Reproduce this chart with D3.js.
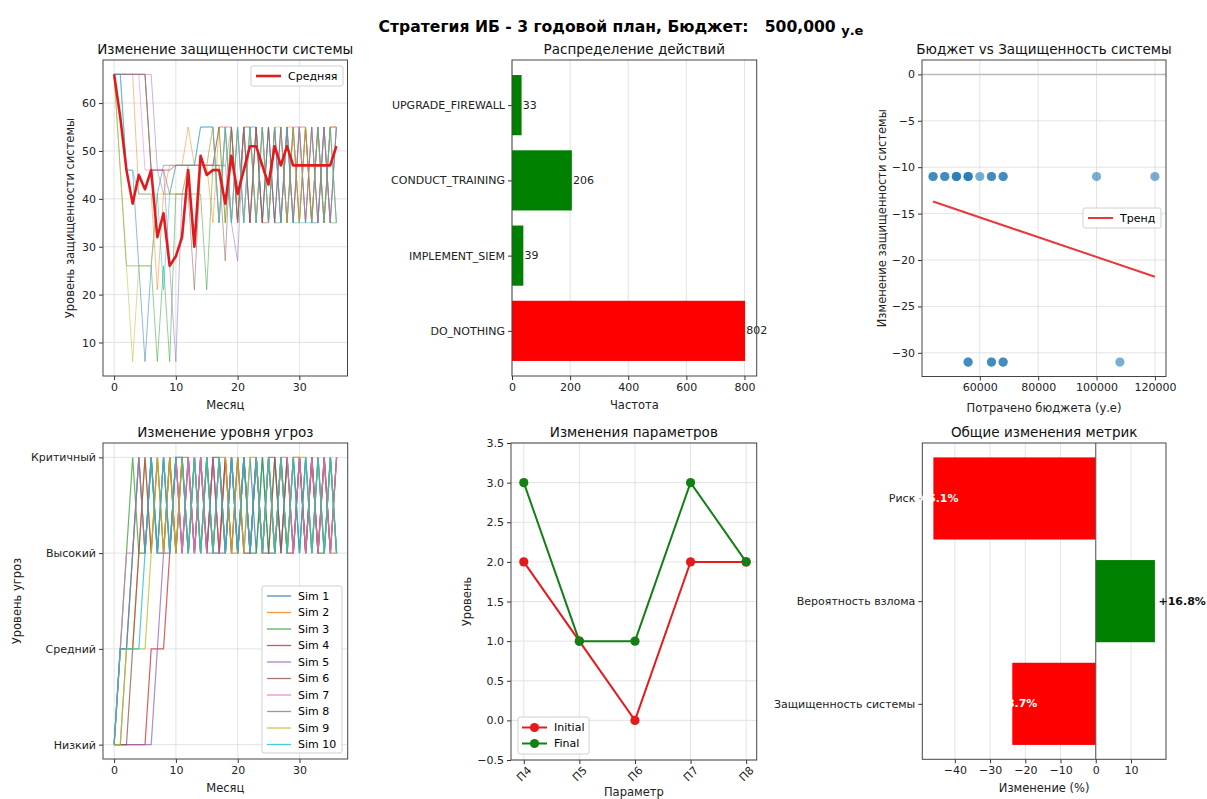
<!DOCTYPE html>
<html>
<head>
<meta charset="utf-8">
<script src="https://cdn.jsdelivr.net/npm/d3@7"></script>
<style>
  body { margin: 0; background: #fff; }
  text { font-family: "DejaVu Sans", sans-serif; }
</style>
</head>
<body>
<script>
// ---- data ----
const months = d3.range(0, 37);
const simColors = ["#1f77b4","#ff7f0e","#2ca02c","#d62728","#9467bd","#8c564b","#e377c2","#7f7f7f","#bcbd22","#17becf"];

// security level per simulation (months 0..36)
const secSims = [
  [66,66,46,46,26,6,26,41,47,47,47,47,47,47,55,55,55,35,55,35,55,35,55,55,35,55,35,55,35,55,35,55,35,35,55,35,55],
  [66,66,66,66,41,41,41,21,41,47,47,47,55,47,47,47,35,55,35,55,35,55,55,35,55,35,55,35,55,55,35,55,35,55,35,55,55],
  [66,46,26,26,26,26,26,6,26,6,41,41,41,41,41,21,47,55,35,55,35,55,35,55,35,55,35,35,55,35,55,35,55,35,55,35,35],
  [66,66,66,66,66,66,46,46,46,46,47,47,47,47,47,47,47,55,55,55,35,55,35,55,35,35,55,35,55,35,55,55,35,55,35,55,55],
  [66,66,66,66,66,66,66,46,46,26,6,41,47,47,47,47,47,47,47,35,27,55,35,55,35,55,35,55,35,55,55,35,55,35,55,35,55],
  [66,66,66,66,66,66,46,46,46,41,41,41,41,21,47,47,47,47,27,55,35,55,35,55,35,55,35,55,35,55,35,55,35,55,35,55,35],
  [66,66,66,66,66,46,46,46,46,46,47,47,47,47,47,47,55,35,55,35,55,35,55,35,55,35,55,35,55,35,55,35,55,35,55,35,55],
  [66,66,66,66,66,66,46,46,41,41,47,47,47,47,47,47,47,47,47,55,35,55,55,35,55,35,55,35,55,35,55,35,55,35,55,35,55],
  [66,46,26,6,26,26,26,41,41,41,41,41,47,47,47,47,55,35,55,35,55,35,55,35,55,35,55,55,35,55,35,55,35,55,35,55,35],
  [66,66,46,46,41,41,41,41,21,41,47,47,47,47,55,55,55,35,55,35,55,35,55,35,55,35,55,35,55,35,35,35,35,55,35,55,35]
];
const secMean = [66,57,46,39,45,42,46,32,37,26,28,32,46,30,49,45,46,46,39,49,41,46,51,51,47,43,51,47,51,47,47,47,47,47,47,47,51];

// action frequencies
const actions = ["DO_NOTHING","IMPLEMENT_SIEM","CONDUCT_TRAINING","UPGRADE_FIREWALL"];
const actionCounts = [802, 39, 206, 33];

// budget vs security change
const spentBudget = [44000,44000,48000,48000,52000,52000,52000,56000,56000,56000,60000,64000,64000,68000,68000,100000,120000,
                     56000,56000,64000,64000,68000,68000,108000];
const securityDelta = [-11,-11,-11,-11,-11,-11,-11,-11,-11,-11,-11,-11,-11,-11,-11,-11,-11,
                       -31,-31,-31,-31,-31,-31,-31];
const trendX = [44000, 120000];
const trendY = [-13.7, -21.8];

// threat level per simulation (0 Низкий .. 3 Критичный)
const threatLabels = ["Низкий","Средний","Высокий","Критичный"];
const threatSims = [
  [0,1,1,2,3,2,3,2,2,3,2,3,2,3,2,3,2,2,3,2,3,2,3,2,3,2,2,3,2,3,2,3,2,3,2,3,2],
  [0,1,1,1,2,3,2,3,2,3,2,3,3,2,3,2,3,2,3,2,2,3,2,3,2,3,2,3,2,3,3,2,3,2,3,2,2],
  [0,1,2,3,2,2,3,2,3,2,3,2,3,2,3,2,3,3,2,3,2,3,2,2,3,2,3,2,3,2,3,2,3,2,2,3,2],
  [0,0,0,0,0,0,1,1,1,2,3,2,3,2,3,2,3,2,3,2,3,2,2,3,2,3,2,3,2,2,3,2,3,2,3,2,3],
  [0,0,0,0,0,0,0,1,2,2,3,2,3,2,3,2,3,2,2,3,2,3,2,3,2,3,3,2,3,2,3,2,3,2,3,2,3],
  [0,0,0,1,2,3,2,3,2,3,2,3,2,3,2,3,2,3,2,3,2,3,2,3,2,2,3,2,3,2,3,2,3,2,3,2,3],
  [0,1,2,2,3,2,3,2,3,2,3,2,3,2,3,2,2,3,2,3,2,3,2,3,2,3,2,3,3,2,3,2,3,2,3,2,3],
  [0,0,1,2,3,2,3,2,3,2,3,3,2,3,2,3,2,3,2,3,2,3,2,3,2,3,2,3,2,3,2,3,2,3,2,3,2],
  [0,0,1,1,1,1,2,3,2,3,2,3,2,3,2,3,2,3,3,2,3,2,3,3,2,3,2,3,2,3,3,3,2,3,2,3,2],
  [0,1,1,1,1,2,3,2,3,2,3,3,2,3,2,3,2,3,2,3,2,3,2,3,2,3,2,3,2,3,2,3,2,3,2,3,2]
];

// parameter changes
const params = ["П4","П5","П6","П7","П8"];
const paramInitial = [2, 1, 0, 2, 2];
const paramFinal = [3, 1, 1, 3, 2];

// overall metric changes, %
const metrics = ["Защищенность системы","Вероятность взлома","Риск"];
const metricChange = [-23.7, 16.8, -46.1];

// ---- drawing ----
const W = 1207, H = 799;
const svg = d3.select("body").append("svg").attr("width", W).attr("height", H);
const TICK_FS = "11px", LABEL_FS = "11.5px", TITLE_FS = "13.5px";

svg.append("text")
  .attr("x", 621).attr("y", 32)
  .attr("text-anchor", "middle")
  .style("font-weight", "bold").style("font-size", "15.6px").style("white-space", "pre")
  .call(t => {
    t.append("tspan").text("Стратегия ИБ - 3 годовой план, Бюджет:   500,000 ");
    t.append("tspan").attr("dy", 3).style("font-size", "13px").text("у.е");
  });

// sets up a panel: grid, axes, frame, title, axis labels
function panel(box, x, y, o) {
  const g = svg.append("g");
  const gridColor = "#dcdcdc";
  if (o.gridX !== false) {
    g.append("g").selectAll("line").data(o.xTicks).join("line")
      .attr("x1", d => x(d)).attr("x2", d => x(d)).attr("y1", box.y0).attr("y2", box.y1)
      .attr("stroke", gridColor).attr("stroke-width", 0.8);
  }
  if (o.gridY !== false) {
    g.append("g").selectAll("line").data(o.yTicks).join("line")
      .attr("y1", d => y(d)).attr("y2", d => y(d)).attr("x1", box.x0).attr("x2", box.x1)
      .attr("stroke", gridColor).attr("stroke-width", 0.8);
  }
  const marks = g.append("g");
  const xa = g.append("g").attr("transform", `translate(0,${box.y1})`)
    .call(d3.axisBottom(x).tickValues(o.xTicks).tickFormat(o.xFmt || null).tickSize(4).tickSizeOuter(0).tickPadding(3));
  const ya = g.append("g").attr("transform", `translate(${box.x0},0)`)
    .call(d3.axisLeft(y).tickValues(o.yTicks).tickFormat(o.yFmt || null).tickSize(4).tickSizeOuter(0).tickPadding(3));
  [xa, ya].forEach(a => {
    a.select(".domain").remove();
    a.selectAll("line").attr("stroke", "#333");
    a.selectAll("text").attr("fill", "#222").style("font-size", TICK_FS).style("font-family", "DejaVu Sans");
  });
  g.append("rect").attr("x", box.x0).attr("y", box.y0)
    .attr("width", box.x1 - box.x0).attr("height", box.y1 - box.y0)
    .attr("fill", "none").attr("stroke", "#444").attr("stroke-width", 1);
  g.append("text").attr("x", (box.x0 + box.x1) / 2).attr("y", box.y0 - 6)
    .attr("text-anchor", "middle").style("font-size", TITLE_FS).attr("fill", "#111").text(o.title);
  if (o.xLabel) g.append("text").attr("x", (box.x0 + box.x1) / 2).attr("y", box.y1 + o.xLabelDy)
    .attr("text-anchor", "middle").style("font-size", LABEL_FS).attr("fill", "#222").text(o.xLabel);
  if (o.yLabel) g.append("text")
    .attr("transform", `translate(${o.yLabelX},${(box.y0 + box.y1) / 2}) rotate(-90)`)
    .attr("text-anchor", "middle").attr("dominant-baseline", "central")
    .style("font-size", LABEL_FS).attr("fill", "#222").text(o.yLabel);
  return { g, marks, xa, ya };
}

function legendBox(g, x0, y0, w, h) {
  g.append("rect").attr("x", x0).attr("y", y0).attr("width", w).attr("height", h).attr("rx", 2)
    .attr("fill", "#fff").attr("fill-opacity", 0.85).attr("stroke", "#d0d0d0");
}

// 1. security level over time
{
  const box = { x0: 103, x1: 347.5, y0: 60, y1: 376 };
  const x = d3.scaleLinear().domain([-1.8, 37.8]).range([box.x0, box.x1]);
  const y = d3.scaleLinear().domain([3, 69]).range([box.y1, box.y0]);
  const p = panel(box, x, y, {
    title: "Изменение защищенности системы", xTicks: [0, 10, 20, 30], yTicks: [10, 20, 30, 40, 50, 60],
    xLabel: "Месяц", xLabelDy: 33, yLabel: "Уровень защищенности системы", yLabelX: 70
  });
  const line = d3.line().x((d, i) => x(months[i])).y(d => y(d));
  p.marks.selectAll(".sim").data(secSims).join("path")
    .attr("d", line).attr("fill", "none")
    .attr("stroke", (d, i) => simColors[i]).attr("stroke-width", 1).attr("stroke-opacity", 0.5);
  p.marks.append("path").datum(secMean).attr("d", line).attr("fill", "none")
    .attr("stroke", "#e31a1c").attr("stroke-width", 2.6).attr("stroke-linejoin", "round");
  legendBox(p.g, 251, 66, 92, 20);
  p.g.append("line").attr("x1", 256).attr("x2", 281).attr("y1", 76).attr("y2", 76)
    .attr("stroke", "#e31a1c").attr("stroke-width", 2.6);
  p.g.append("text").attr("x", 288).attr("y", 76).attr("dominant-baseline", "central")
    .style("font-size", "11px").text("Средняя");
}

// 2. action distribution
{
  const box = { x0: 512, x1: 756.7, y0: 60, y1: 376 };
  const x = d3.scaleLinear().domain([0, 842.1]).range([box.x0, box.x1]);
  const y = d3.scaleLinear().domain([-0.6, 3.6]).range([box.y1, box.y0]);
  const p = panel(box, x, y, {
    title: "Распределение действий", xTicks: [0, 200, 400, 600, 800], yTicks: [0, 1, 2, 3],
    yFmt: i => actions[i], gridY: false, xLabel: "Частота", xLabelDy: 33
  });
  p.marks.selectAll("rect").data(actionCounts).join("rect")
    .attr("x", x(0)).attr("y", (d, i) => y(i + 0.4))
    .attr("width", d => x(d) - x(0)).attr("height", (d, i) => y(i - 0.4) - y(i + 0.4))
    .attr("fill", (d, i) => actions[i] === "DO_NOTHING" ? "#ff0000" : "#008000");
  p.marks.selectAll("text").data(actionCounts).join("text")
    .attr("x", d => x(d + 4)).attr("y", (d, i) => y(i)).attr("dominant-baseline", "central")
    .style("font-size", TICK_FS).attr("fill", "#222").text(d => d);
}

// 3. budget vs security change
{
  const box = { x0: 922, x1: 1166, y0: 60, y1: 376.5 };
  const x = d3.scaleLinear().domain([40200, 123800]).range([box.x0, box.x1]);
  const y = d3.scaleLinear().domain([-32.55, 1.55]).range([box.y1, box.y0]);
  const p = panel(box, x, y, {
    title: "Бюджет vs Защищенность системы", xTicks: [60000, 80000, 100000, 120000], yTicks: [0, -5, -10, -15, -20, -25, -30],
    xFmt: d3.format("d"), xLabel: "Потрачено бюджета (у.е)", xLabelDy: 35,
    yLabel: "Изменение защищенности системы", yLabelX: 882
  });
  p.marks.append("line").attr("x1", box.x0).attr("x2", box.x1).attr("y1", y(0)).attr("y2", y(0))
    .attr("stroke", "#bbb").attr("stroke-width", 1.5);
  p.marks.selectAll("circle").data(spentBudget).join("circle")
    .attr("cx", d => x(d)).attr("cy", (d, i) => y(securityDelta[i])).attr("r", 4.6)
    .attr("fill", "#1f77b4").attr("fill-opacity", 0.6);
  p.marks.append("path").datum(trendX).attr("d", d3.line().x(d => x(d)).y((d, i) => y(trendY[i])))
    .attr("stroke", "#e8393a").attr("stroke-width", 2).attr("fill", "none");
  legendBox(p.g, 1083, 208, 78, 20);
  p.g.append("line").attr("x1", 1088).attr("x2", 1113).attr("y1", 218).attr("y2", 218)
    .attr("stroke", "#e8393a").attr("stroke-width", 2);
  p.g.append("text").attr("x", 1120).attr("y", 218).attr("dominant-baseline", "central")
    .style("font-size", "11px").text("Тренд");
}

// 4. threat level over time
{
  const box = { x0: 103, x1: 347.7, y0: 443, y1: 759 };
  const x = d3.scaleLinear().domain([-1.8, 37.8]).range([box.x0, box.x1]);
  const y = d3.scaleLinear().domain([-0.15, 3.15]).range([box.y1, box.y0]);
  const p = panel(box, x, y, {
    title: "Изменение уровня угроз", xTicks: [0, 10, 20, 30], yTicks: [0, 1, 2, 3],
    yFmt: i => threatLabels[i], xLabel: "Месяц", xLabelDy: 33, yLabel: "Уровень угроз", yLabelX: 17
  });
  const line = d3.line().x((d, i) => x(months[i])).y(d => y(d));
  p.marks.selectAll("path").data(threatSims).join("path")
    .attr("d", line).attr("fill", "none")
    .attr("stroke", (d, i) => simColors[i]).attr("stroke-width", 1.2).attr("stroke-opacity", 0.75);
  legendBox(p.g, 262, 586, 80, 167);
  const lg = p.g.append("g").selectAll("g").data(simColors).join("g")
    .attr("transform", (d, i) => `translate(267,${596 + i * 16.5})`);
  lg.append("line").attr("x1", 0).attr("x2", 24).attr("stroke", d => d).attr("stroke-width", 1.3).attr("stroke-opacity", 0.8);
  lg.append("text").attr("x", 31).attr("dominant-baseline", "central").style("font-size", "11px")
    .text((d, i) => "Sim " + (i + 1));
}

// 5. parameter changes
{
  const box = { x0: 511, x1: 756.7, y0: 443, y1: 760 };
  const x = d3.scaleLinear().domain([-0.23, 4.19]).range([box.x0, box.x1]);
  const y = d3.scaleLinear().domain([-0.5, 3.5]).range([box.y1, box.y0]);
  const p = panel(box, x, y, {
    title: "Изменения параметров", xTicks: [0, 1, 2, 3, 4], yTicks: d3.range(-0.5, 3.51, 0.5),
    xFmt: i => params[i], yFmt: d3.format(".1f"), xLabel: "Параметр", xLabelDy: 36,
    yLabel: "Уровень", yLabelX: 467
  });
  p.xa.selectAll("text")
    .attr("y", 0).attr("dy", null)
    .attr("transform", "translate(0,14) rotate(-45)").attr("text-anchor", "middle").attr("dominant-baseline", "central");
  const series = [{ v: paramInitial, c: "#e41a1c", name: "Initial" }, { v: paramFinal, c: "#138013", name: "Final" }];
  series.forEach(s => {
    p.marks.append("path").datum(s.v).attr("d", d3.line().x((d, i) => x(i)).y(d => y(d)))
      .attr("fill", "none").attr("stroke", s.c).attr("stroke-width", 2);
    p.marks.append("g").selectAll("circle").data(s.v).join("circle")
      .attr("cx", (d, i) => x(i)).attr("cy", d => y(d)).attr("r", 4.6).attr("fill", s.c);
  });
  legendBox(p.g, 518, 717, 71, 37);
  series.forEach((s, i) => {
    const ly = 727.5 + i * 16;
    p.g.append("line").attr("x1", 522).attr("x2", 547).attr("y1", ly).attr("y2", ly).attr("stroke", s.c).attr("stroke-width", 2);
    p.g.append("circle").attr("cx", 534.5).attr("cy", ly).attr("r", 4.6).attr("fill", s.c);
    p.g.append("text").attr("x", 554).attr("y", ly).attr("dominant-baseline", "central").style("font-size", "11px").text(s.name);
  });
}

// 6. overall metric changes
{
  const box = { x0: 922.3, x1: 1166, y0: 443, y1: 759.3 };
  const x = d3.scaleLinear().domain([-49.245, 19.945]).range([box.x0, box.x1]);
  const y = d3.scaleLinear().domain([-0.54, 2.54]).range([box.y1, box.y0]);
  const p = panel(box, x, y, {
    title: "Общие изменения метрик", xTicks: [-40, -30, -20, -10, 0, 10], yTicks: [0, 1, 2],
    yFmt: i => metrics[i], gridY: false, xLabel: "Изменение (%)", xLabelDy: 33
  });
  p.marks.selectAll("rect").data(metricChange).join("rect")
    .attr("x", d => x(Math.min(0, d))).attr("y", (d, i) => y(i + 0.4))
    .attr("width", d => Math.abs(x(d) - x(0))).attr("height", (d, i) => y(i - 0.4) - y(i + 0.4))
    .attr("fill", d => d < 0 ? "#ff0000" : "#008000");
  p.marks.append("line").attr("x1", x(0)).attr("x2", x(0)).attr("y1", box.y0).attr("y2", box.y1)
    .attr("stroke", "#555").attr("stroke-width", 1);
  p.g.selectAll(".val").data(metricChange).join("text")
    .attr("x", d => x(d + (d > 0 ? 1 : -5))).attr("y", (d, i) => y(i)).attr("dominant-baseline", "central")
    .style("font-size", TICK_FS).style("font-weight", "bold")
    .attr("fill", d => d < 0 ? "#fff" : "#111")
    .text(d => (d > 0 ? "+" : "-") + Math.abs(d).toFixed(1) + "%");
}
</script>
</body>
</html>
